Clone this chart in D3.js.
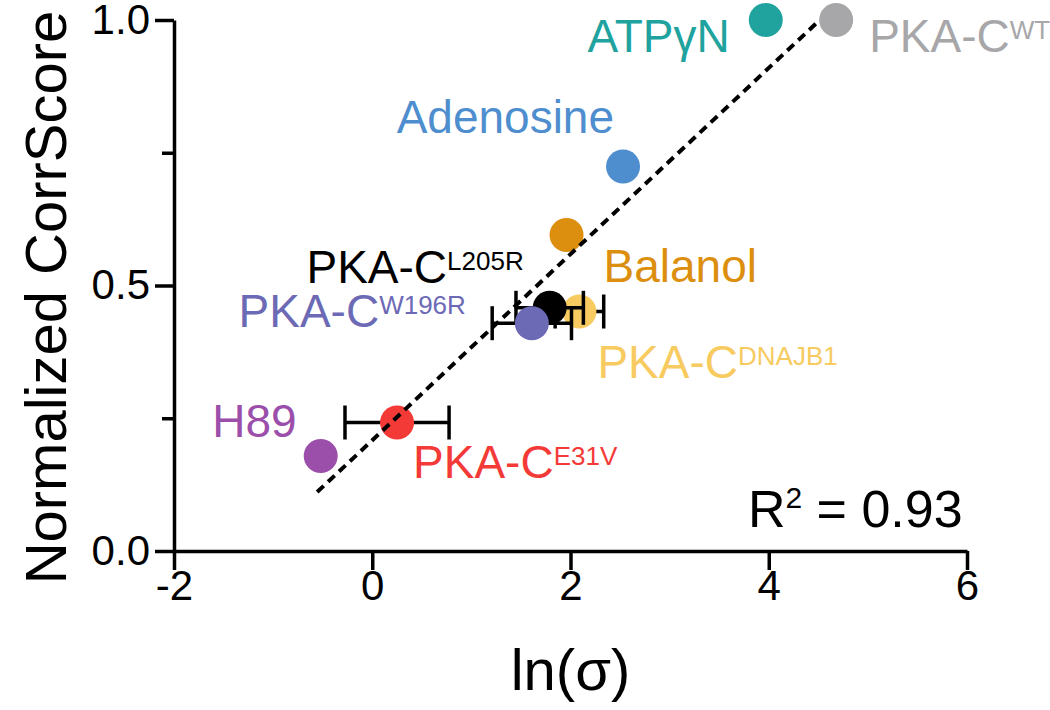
<!DOCTYPE html>
<html><head><meta charset="utf-8">
<script src="https://cdn.jsdelivr.net/npm/d3@7"></script>
<style>
body{margin:0;background:#fff;}
text{font-family:"Liberation Sans", Arial, sans-serif;}
</style>
</head><body><svg id="chart" width="1050" height="710"></svg>
<script>
// ---- data ----
const names        = ["PKA-C", "ATPγN", "Adenosine", "Balanol", "PKA-C", "PKA-C", "PKA-C", "PKA-C", "H89"];
const superscripts = ["WT", "", "", "", "DNAJB1", "L205R", "W196R", "E31V", ""];
const lnSigma      = [4.68, 3.97, 2.53, 1.96, 2.09, 1.79, 1.61, 0.25, -0.52];
const corrScore    = [1.0, 1.0, 0.724, 0.595, 0.451, 0.458, 0.429, 0.242, 0.179];
const xError       = [0, 0, 0, 0, 0.245, 0.34, 0.40, 0.525, 0];
const fitX = [-0.556, 4.515];
const fitY = [0.111, 1.0];
const xTicks = [-2, 0, 2, 4, 6];
const yTicks = [0, 0.5, 1.0];
const yMinorTicks = [0.25, 0.75];
const rSquaredLabel = "0.93";
const xTitle = "ln(σ)";
const yTitle = "Normalized CorrScore";

// ---- styles / layout ----
const colors = ["#a7a7a9", "#20a39e", "#4e8ecf", "#dc8f0e", "#f7cb5f", "#000000", "#6c69b5", "#f43a37", "#9b4faa"];
// label offsets in px from the point: [dx, dy, anchor]
const labelLayout = [[33, 32, "start"], [-36, 32, "end"], [-9, -34, "end"], [37, 47, "start"],
                     [18, 66, "start"], [-26, -25, "end"], [-66, 4, "end"], [16, 56, "start"], [-24, -19, "end"]];
const drawOrder = [0, 1, 2, 3, 4, 5, 6, 7, 8];

const svg = d3.select("#chart");
const x = d3.scaleLinear().domain([-2, 6]).range([174, 967]);
const y = d3.scaleLinear().domain([0, 1]).range([551, 20]);

const AX = 3.5;

// y axis
svg.append("g").attr("transform", `translate(${x(-2)},0)`)
  .call(d3.axisLeft(y).tickValues(yTicks).tickFormat(d3.format(".1f")).tickSize(19).tickSizeOuter(0).tickPadding(5));
svg.append("g").attr("transform", `translate(${x(-2)},0)`)
  .call(d3.axisLeft(y).tickValues(yMinorTicks).tickFormat("").tickSize(12).tickSizeOuter(0))
  .call(g => g.select(".domain").remove());
// x axis
const gx = svg.append("g").attr("transform", `translate(0,${y(0)})`)
  .call(d3.axisBottom(x).tickValues(xTicks).tickFormat(d3.format("d")).tickSize(19).tickSizeOuter(0).tickPadding(0));

svg.selectAll(".domain, .tick line").attr("stroke", "#000").attr("stroke-width", AX);
svg.selectAll(".tick text").attr("fill", "#000").attr("font-size", 42)
  .attr("font-family", "'Liberation Sans', Arial, sans-serif");
gx.selectAll(".tick text").text(d => d < 0 ? "-" + Math.abs(d) : d);

// axis titles
svg.append("text").attr("x", (x(-2) + x(6)) / 2).attr("y", 690).attr("text-anchor", "middle")
  .attr("font-size", 58).text(xTitle);
svg.append("text").attr("transform", `translate(66,${(y(0) + y(1)) / 2 + 12}) rotate(-90)`)
  .attr("text-anchor", "middle").attr("font-size", 58).text(yTitle);

// points with error bars
const R = 17, CAP = 17;
const data = drawOrder.map(i => ({i, name: names[i], sup: superscripts[i], xv: lnSigma[i], yv: corrScore[i], err: xError[i], color: colors[i], lay: labelLayout[i]}));

const pts = svg.append("g");
data.forEach(d => {
  const g = pts.append("g");
  const cx = x(d.xv), cy = y(d.yv);
  if (d.err > 0) {
    const x0 = x(d.xv - d.err), x1 = x(d.xv + d.err);
    g.append("line").attr("x1", x0).attr("x2", x1).attr("y1", cy).attr("y2", cy).attr("stroke", "#000").attr("stroke-width", AX);
    [x0, x1].forEach(xx => g.append("line").attr("x1", xx).attr("x2", xx).attr("y1", cy - CAP).attr("y2", cy + CAP).attr("stroke", "#000").attr("stroke-width", AX));
  }
  g.append("circle").attr("cx", cx).attr("cy", cy).attr("r", R).attr("fill", d.color);
});

// fit line (on top)
svg.append("line").attr("x1", x(fitX[0])).attr("y1", y(fitY[0])).attr("x2", x(fitX[1])).attr("y2", y(fitY[1]))
  .attr("stroke", "#000").attr("stroke-width", 4).attr("stroke-dasharray", "9,6");

// labels
data.forEach(d => {
  const t = svg.append("text").attr("x", x(d.xv) + d.lay[0]).attr("y", y(d.yv) + d.lay[1])
    .attr("text-anchor", d.lay[2]).attr("font-size", 46).attr("fill", d.color);
  t.append("tspan").text(d.name);
  if (d.sup) t.append("tspan").attr("font-size", 26).attr("dy", -13).text(d.sup);
});

// R squared
const rt = svg.append("text").attr("x", x(3.79)).attr("y", y(0.045)).attr("font-size", 52).attr("fill", "#000");
rt.append("tspan").text("R");
rt.append("tspan").attr("font-size", 30).attr("dy", -19).text("2");
rt.append("tspan").attr("dy", 19).text(" = " + rSquaredLabel);
</script>
</body></html>
